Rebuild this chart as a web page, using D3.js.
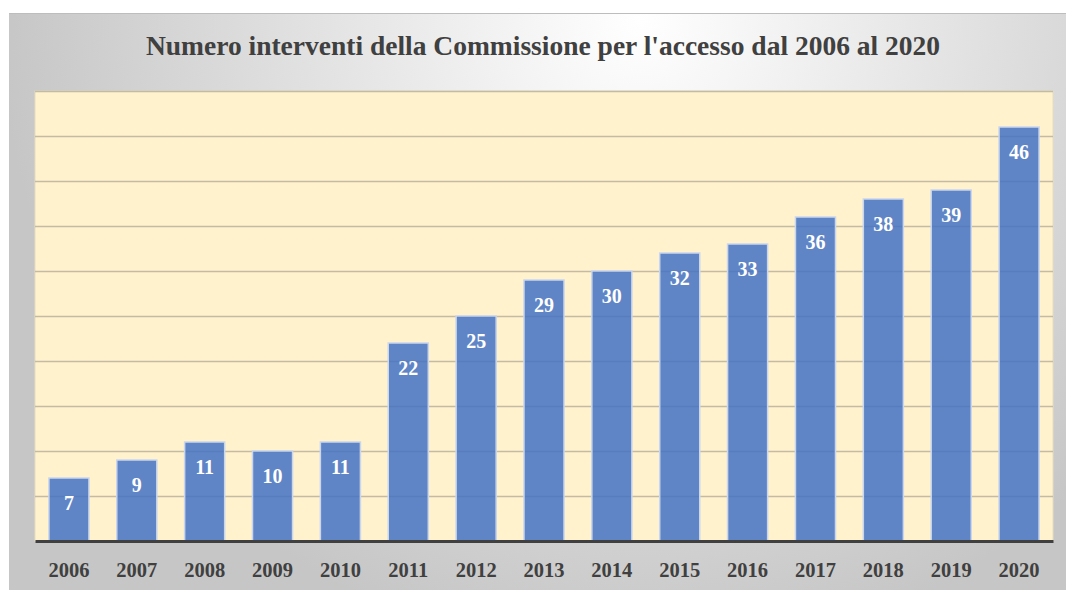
<!DOCTYPE html>
<html>
<head>
<meta charset="utf-8">
<script src="https://cdn.jsdelivr.net/npm/d3@7"></script>
<style>
  html, body { margin: 0; padding: 0; background: #fff; }
  svg { display: block; }
</style>
</head>
<body>
<div id="chart"></div>
<script>
const years = ['2006', '2007', '2008', '2009', '2010', '2011', '2012', '2013',
  '2014', '2015', '2016', '2017', '2018', '2019', '2020'];
const interventi = [7, 9, 11, 10, 11, 22, 25, 29, 30, 32, 33, 36, 38, 39, 46];
const gridValues = [5, 10, 15, 20, 25, 30, 35, 40, 45, 50];
const title = "Numero interventi della Commissione per l'accesso dal 2006 al 2020";

const W = 1066, H = 590;
const margin = { top: 91, left: 35, right: 13, bottom: 49 };
const serif = '"Liberation Serif", "DejaVu Serif", serif';

const svg = d3.select('#chart').append('svg')
  .attr('width', W)
  .attr('height', H);

// background gradient of the chart area
const defs = svg.append('defs');
const grad = defs.append('radialGradient')
  .attr('id', 'bg')
  .attr('gradientUnits', 'userSpaceOnUse')
  .attr('cx', 640).attr('cy', 20).attr('r', 640)
  .attr('fx', 640).attr('fy', 20);
grad.append('stop').attr('offset', '0%').attr('stop-color', '#ffffff');
grad.append('stop').attr('offset', '100%').attr('stop-color', '#c6c6c6');

svg.append('rect')
  .attr('x', 9).attr('y', 13)
  .attr('width', W - 9).attr('height', H - 13)
  .attr('fill', 'url(#bg)');
svg.append('line')
  .attr('x1', 9).attr('x2', W).attr('y1', 13.5).attr('y2', 13.5)
  .attr('stroke', '#bdbdbd');

const x = d3.scaleBand()
  .domain(years)
  .range([margin.left, W - margin.right])
  .paddingInner(0.41)
  .paddingOuter(0.205);

const y = d3.scaleLinear()
  .domain([0, 50])
  .range([H - margin.bottom, margin.top]);

// plot area
svg.append('rect')
  .attr('x', margin.left)
  .attr('y', margin.top)
  .attr('width', W - margin.right - margin.left)
  .attr('height', y(0) - margin.top)
  .attr('fill', '#fff2cc')
  .attr('stroke', '#e6dcc0')
  .attr('stroke-width', 1);

// gridlines
svg.append('g')
  .selectAll('line')
  .data(gridValues)
  .join('line')
  .attr('x1', margin.left)
  .attr('x2', W - margin.right)
  .attr('y1', d => Math.round(y(d)) + 0.5)
  .attr('y2', d => Math.round(y(d)) + 0.5)
  .attr('stroke', '#c4bba4')
  .attr('stroke-width', 1.5);

// bars
svg.append('g')
  .selectAll('rect')
  .data(interventi)
  .join('rect')
  .attr('x', (d, i) => x(years[i]))
  .attr('y', d => y(d))
  .attr('width', x.bandwidth())
  .attr('height', d => y(0) - y(d))
  .attr('fill', '#4472c4')
  .attr('fill-opacity', 0.85)
  .attr('stroke', '#c9d6ee')
  .attr('stroke-width', 1.5);

// value labels
svg.append('g')
  .selectAll('text')
  .data(interventi)
  .join('text')
  .attr('x', (d, i) => x(years[i]) + x.bandwidth() / 2)
  .attr('y', d => y(d) + 32)
  .attr('text-anchor', 'middle')
  .attr('font-family', serif)
  .attr('font-weight', 'bold')
  .attr('font-size', 20)
  .attr('fill', '#ffffff')
  .text(d => d);

// x axis
const xAxis = svg.append('g')
  .attr('transform', `translate(0, ${y(0)})`)
  .call(d3.axisBottom(x).tickSize(0).tickPadding(21));
xAxis.select('.domain')
  .attr('stroke', '#404040')
  .attr('stroke-width', 3);
xAxis.selectAll('text')
  .attr('font-family', serif)
  .attr('font-weight', 'bold')
  .attr('font-size', 20.5)
  .attr('fill', '#404040');

// title
svg.append('text')
  .attr('x', 543)
  .attr('y', 55)
  .attr('text-anchor', 'middle')
  .attr('font-family', serif)
  .attr('font-weight', 'bold')
  .attr('font-size', 27.5)
  .attr('fill', '#404040')
  .text(title);
</script>
</body>
</html>
